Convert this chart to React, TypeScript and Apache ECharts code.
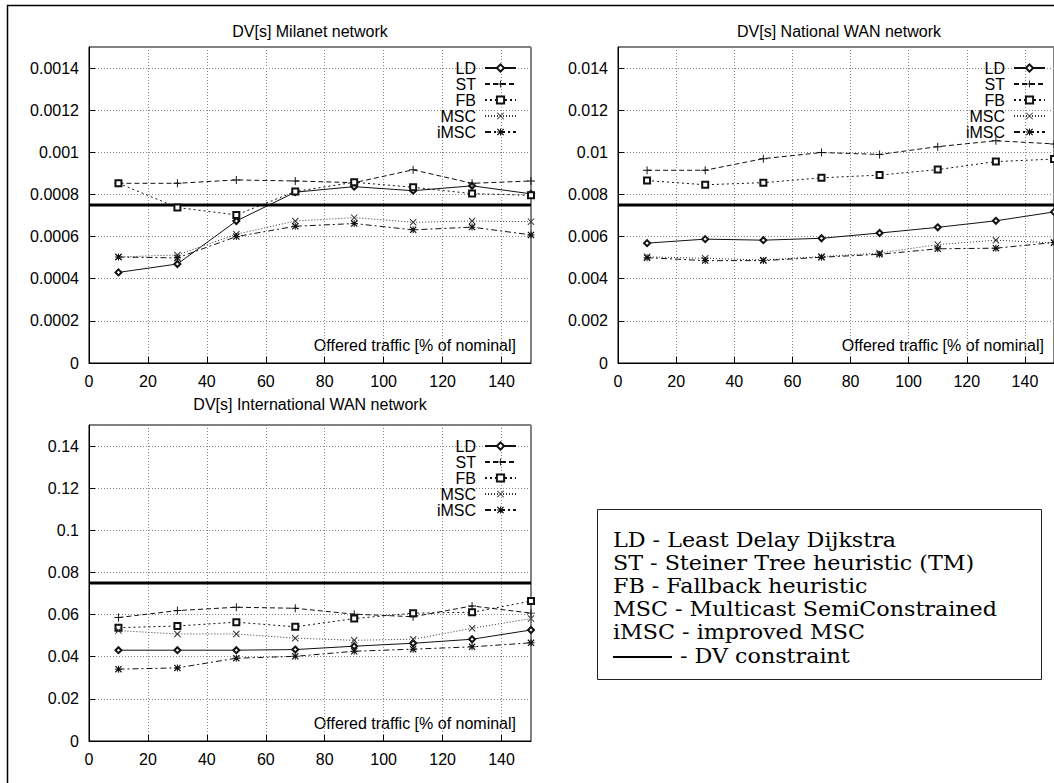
import React, { useEffect, useRef } from 'react';
import * as echarts from 'echarts';

// ---------- data ----------
const X_VALUES = [10, 30, 50, 70, 90, 110, 130, 150];
const SERIES_NAMES = ['LD', 'ST', 'FB', 'MSC', 'iMSC'];
const PANEL_TITLES = ['DV[s] Milanet network', 'DV[s] National WAN network', 'DV[s] International WAN network'];
const X_AXIS_NAME = 'Offered traffic [% of nominal]';
const Y_MAX = [0.0015, 0.015, 0.15];
const Y_INTERVAL = [0.0002, 0.002, 0.02];
const DV_CONSTRAINT = [0.00075, 0.0075, 0.075];

// Milanet
const LD_MILANET = [0.00043, 0.00047, 0.000674, 0.000811, 0.000837, 0.000818, 0.000841, 0.000803];
const ST_MILANET = [0.000853, 0.000853, 0.000869, 0.000864, 0.000856, 0.000917, 0.000853, 0.000864];
const FB_MILANET = [0.000853, 0.000738, 0.000703, 0.000814, 0.000858, 0.000834, 0.000804, 0.000796];
const MSC_MILANET = [0.000503, 0.000513, 0.000611, 0.000674, 0.00069, 0.000668, 0.000674, 0.000671];
const IMSC_MILANET = [0.000503, 0.000499, 0.0006, 0.000649, 0.000662, 0.000632, 0.000645, 0.000608];

// National WAN
const LD_NATIONAL = [0.00569, 0.00588, 0.00583, 0.00592, 0.00617, 0.00644, 0.00675, 0.00717];
const ST_NATIONAL = [0.00915, 0.00915, 0.0097, 0.00999, 0.0099, 0.01027, 0.01055, 0.0104];
const FB_NATIONAL = [0.00866, 0.00846, 0.00856, 0.00879, 0.00892, 0.00918, 0.00956, 0.00968];
const MSC_NATIONAL = [0.00504, 0.00497, 0.00489, 0.00505, 0.00522, 0.00562, 0.00583, 0.0057];
const IMSC_NATIONAL = [0.005, 0.00486, 0.00486, 0.00502, 0.00516, 0.00542, 0.00545, 0.00572];

// International WAN
const LD_INTERNATIONAL = [0.0431, 0.0431, 0.0431, 0.0434, 0.045, 0.0464, 0.0483, 0.0527];
const ST_INTERNATIONAL = [0.0586, 0.0619, 0.0635, 0.063, 0.0602, 0.059, 0.0641, 0.0607];
const FB_INTERNATIONAL = [0.0538, 0.0546, 0.0564, 0.0542, 0.0581, 0.0607, 0.0611, 0.0664];
const MSC_INTERNATIONAL = [0.0524, 0.0508, 0.0508, 0.0488, 0.0478, 0.0483, 0.0535, 0.0581];
const IMSC_INTERNATIONAL = [0.0341, 0.0347, 0.0393, 0.0402, 0.0426, 0.0436, 0.0447, 0.0466];

const PANEL_DATA = [
  [LD_MILANET, ST_MILANET, FB_MILANET, MSC_MILANET, IMSC_MILANET],
  [LD_NATIONAL, ST_NATIONAL, FB_NATIONAL, MSC_NATIONAL, IMSC_NATIONAL],
  [LD_INTERNATIONAL, ST_INTERNATIONAL, FB_INTERNATIONAL, MSC_INTERNATIONAL, IMSC_INTERNATIONAL],
];

const BOX_LINES = [
  'LD - Least Delay Dijkstra',
  'ST - Steiner Tree heuristic (TM)',
  'FB - Fallback heuristic',
  'MSC - Multicast SemiConstrained',
  'iMSC - improved MSC',
];
const BOX_LAST = '- DV constraint';

// ---------- styles ----------
const SANS = '"Liberation Sans", Arial, Helvetica, sans-serif';
const SERIF = '"DejaVu Serif", serif';
const PLUS = 'path://M0,4.4L10,4.4L10,5.6L0,5.6Z M4.4,0L5.6,0L5.6,10L4.4,10Z';
const CROSS = 'path://M0,1L1,0L10,9L9,10Z M9,0L10,1L1,10L0,9Z';
const STAR = 'path://M0,1.2L1.2,0L10,8.8L8.8,10Z M8.8,0L10,1.2L1.2,10L0,8.8Z M0,4.3L10,4.3L10,5.7L0,5.7Z M4.3,0L5.7,0L5.7,10L4.3,10Z';

const SERIES_STYLE: Record<string, any> = {
  LD: { symbol: 'emptyDiamond', size: 6, type: 'solid', color: '#111', border: 1 },
  ST: { symbol: PLUS, size: 8, type: [5, 3], color: '#111', border: 0 },
  FB: { symbol: 'emptyRect', size: 6, type: [2, 3], color: '#111', border: 1 },
  MSC: { symbol: CROSS, size: 7, type: [1, 2], color: '#333', border: 0 },
  iMSC: { symbol: STAR, size: 7, type: [6, 3, 2, 3], color: '#111', border: 0 },
};

const GRIDS = [
  { left: 89, top: 47, width: 442, height: 316 },
  { left: 618, top: 47, width: 442, height: 316 },
  { left: 89, top: 425, width: 442, height: 316 },
];

function fmt(v: number) {
  return String(+v.toFixed(6));
}

export default function App() {
  const ref = useRef<HTMLDivElement>(null);

  useEffect(() => {
    if (!ref.current) return;
    const chart = echarts.init(ref.current, null, { renderer: 'svg' });

    const grid = GRIDS.map((g) => ({
      ...g,
      show: true,
      borderColor: '#000',
      borderWidth: 1,
      backgroundColor: 'transparent',
      containLabel: false,
    }));

    const xAxis = GRIDS.map((_, p) => ({
      gridIndex: p,
      type: 'value',
      min: 0,
      max: 150,
      interval: 20,
      axisLine: { show: true, onZero: false, lineStyle: { color: '#000', width: 1 } },
      axisTick: { show: true, inside: true, length: 6, lineStyle: { color: '#000' } },
      axisLabel: { showMaxLabel: false, color: '#000', fontSize: 16, fontFamily: SANS, margin: 10 },
      splitLine: { show: true, lineStyle: { color: '#888', width: 1, type: [1, 2] } },
    }));

    const yAxis = GRIDS.map((_, p) => ({
      gridIndex: p,
      type: 'value',
      min: 0,
      max: Y_MAX[p],
      interval: Y_INTERVAL[p],
      axisLine: { show: true, onZero: false, lineStyle: { color: '#000', width: 1 } },
      axisTick: { show: true, inside: true, length: 6, lineStyle: { color: '#000' } },
      axisLabel: {
        showMaxLabel: false,
        color: '#000',
        fontSize: 16,
        fontFamily: SANS,
        margin: 10,
        formatter: (v: number) => fmt(v),
      },
      splitLine: { show: true, lineStyle: { color: '#888', width: 1, type: [1, 2] } },
    }));

    const series: any[] = [];
    PANEL_DATA.forEach((panel, p) => {
      series.push({
        type: 'line',
        name: 'DV constraint',
        xAxisIndex: p,
        yAxisIndex: p,
        data: [
          [0, DV_CONSTRAINT[p]],
          [150, DV_CONSTRAINT[p]],
        ],
        showSymbol: false,
        symbol: 'none',
        lineStyle: { color: '#000', width: 3 },
        silent: true,
        z: 1,
      });
      panel.forEach((vals, i) => {
        const name = SERIES_NAMES[i];
        const st = SERIES_STYLE[name];
        series.push({
          type: 'line',
          name,
          xAxisIndex: p,
          yAxisIndex: p,
          data: X_VALUES.map((x, k) => [x, vals[k]]),
          symbol: st.symbol,
          symbolSize: st.size,
          showAllSymbol: true,
          lineStyle: { color: st.color, width: 1, type: st.type },
          itemStyle: { color: st.color, borderColor: st.color, borderWidth: st.border },
          emphasis: { disabled: true },
          silent: true,
          clip: true,
          z: 3,
        });
      });
    });

    const legendRights = [537, 8, 537];
    const legendTops = [60, 60, 438];
    const legend = GRIDS.map((_, p) => ({
      data: SERIES_NAMES,
      orient: 'vertical',
      align: 'right',
      right: legendRights[p],
      top: legendTops[p],
      itemGap: 0,
      itemWidth: 31,
      itemHeight: 9,
      padding: 0,
      selectedMode: false,
      textStyle: { color: '#000', fontSize: 16, fontFamily: SANS, lineHeight: 16, padding: [0, 4, 0, 0] },
    }));

    const titlePos = [
      [GRIDS[0].left + GRIDS[0].width / 2, 31],
      [GRIDS[1].left + GRIDS[1].width / 2, 31],
      [GRIDS[2].left + GRIDS[2].width / 2, 404],
    ];

    const graphic: any[] = [
      {
        type: 'rect',
        shape: { x: 7.5, y: 5.5, width: 1100, height: 850 },
        style: { fill: 'none', stroke: '#000', lineWidth: 1.5 },
        silent: true,
      },
    ];
    PANEL_TITLES.forEach((t, p) => {
      graphic.push({
        type: 'text',
        x: titlePos[p][0],
        y: titlePos[p][1],
        style: { text: t, fill: '#000', fontSize: 16, fontFamily: SANS, align: 'center', verticalAlign: 'middle' },
        silent: true,
      });
      const g = GRIDS[p];
      graphic.push({
        type: 'text',
        x: p === 1 ? g.left + g.width - 16 : g.left + g.width - 15,
        y: g.top + g.height - 18,
        style: { text: X_AXIS_NAME, fill: '#000', fontSize: 16, fontFamily: SANS, align: 'right', verticalAlign: 'middle' },
        silent: true,
      });
    });

    // explanation box
    const boxX = 597.5;
    const boxY = 509.5;
    const lineH = 23.2;
    const firstCenter = 540;
    const boxFont = 19.5;
    const boxScaleX = 1.14;
    graphic.push({
      type: 'rect',
      shape: { x: boxX, y: boxY, width: 444, height: 170 },
      style: { fill: '#fff', stroke: '#222', lineWidth: 1 },
      silent: true,
    });
    BOX_LINES.forEach((line, i) => {
      graphic.push({
        type: 'text',
        x: 613,
        y: firstCenter + i * lineH,
        scaleX: boxScaleX,
        style: {
          text: line,
          fill: '#000',
          fontSize: boxFont,
          fontFamily: SERIF,
          align: 'left',
          verticalAlign: 'middle',
        },
        silent: true,
      });
    });
    graphic.push({
      type: 'line',
      shape: { x1: 613, y1: 657, x2: 672, y2: 657 },
      style: { stroke: '#000', lineWidth: 2 },
      silent: true,
    });
    graphic.push({
      type: 'text',
      x: 680,
      y: firstCenter + 5 * lineH,
      scaleX: boxScaleX,
      style: {
        text: BOX_LAST,
        fill: '#000',
        fontSize: boxFont,
        fontFamily: SERIF,
        align: 'left',
        verticalAlign: 'middle',
      },
      silent: true,
    });

    chart.setOption({
      animation: false,
      backgroundColor: '#fff',
      grid,
      xAxis,
      yAxis,
      legend,
      series,
      graphic,
    });

    return () => chart.dispose();
  }, []);

  return <div ref={ref} style={{ position: 'absolute', left: 0, top: 0, width: 1054, height: 783 }} />;
}
